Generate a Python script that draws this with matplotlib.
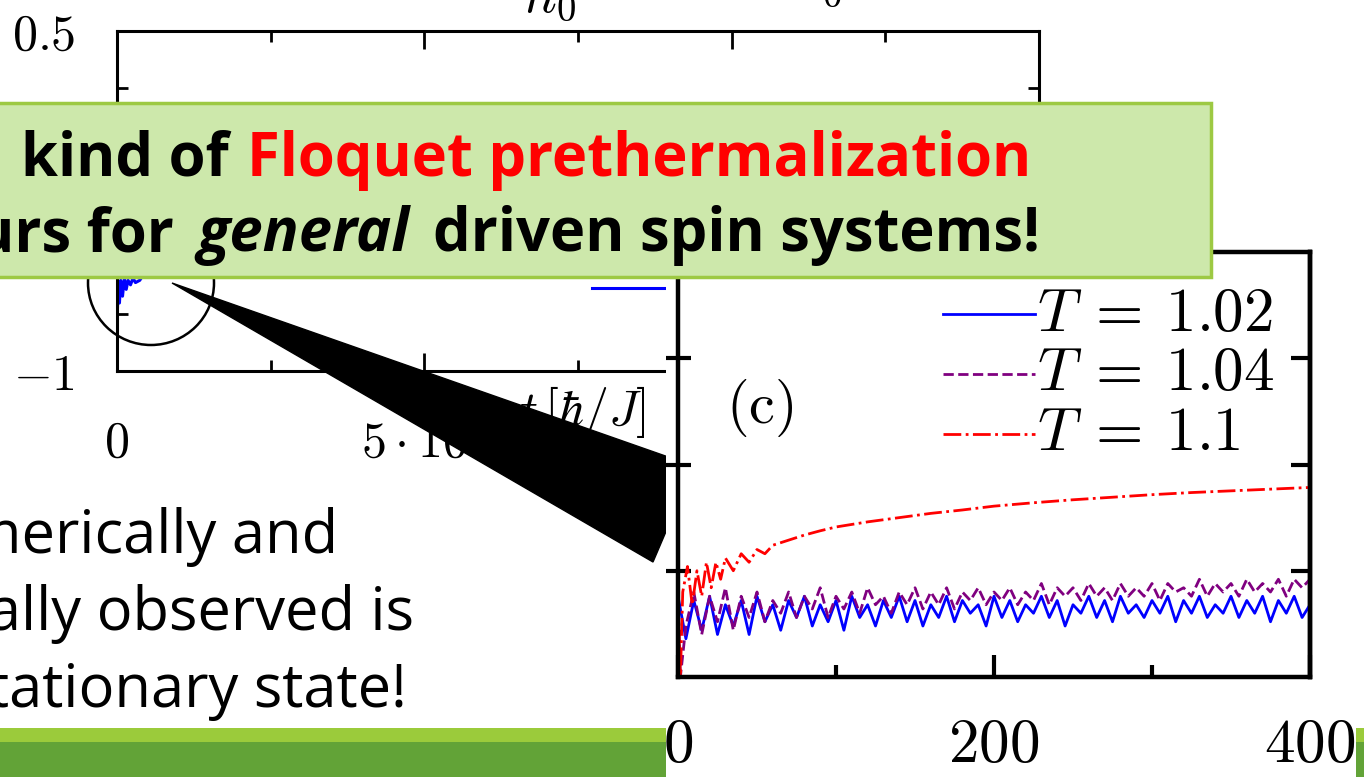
import numpy as np
import matplotlib
matplotlib.use('Agg')
import matplotlib.pyplot as plt
from matplotlib.patches import Rectangle, Polygon, Ellipse
from matplotlib.lines import Line2D
from matplotlib.ticker import MultipleLocator

W, H = 1364, 777

# back panel: long-time run (mostly hidden under the callout)
left_t = [0, 5, 20, 40, 60, 90, 120, 150, 180, 220, 260, 300, 370, 600, 1000, 2000, 5000, 10000, 15000]
left_y = [-1.0, -0.75, -0.62, -0.70, -0.60, -0.67, -0.59, -0.64, -0.60, -0.62, -0.59, -0.61, -0.60,
          -0.50, -0.45, -0.40, -0.35, -0.30, -0.28]

# front panel (c): three driving periods
blue_y = [0.19, 0.09, 0.18, 0.11, 0.19, 0.10, 0.17, 0.12, 0.18, 0.10,
          0.19, 0.13, 0.17, 0.11, 0.18, 0.14, 0.19, 0.12, 0.17, 0.13,
          0.18, 0.11, 0.19, 0.14, 0.17, 0.12, 0.18, 0.14, 0.19, 0.13,
          0.18, 0.12, 0.17, 0.14, 0.19, 0.13, 0.18, 0.15, 0.17, 0.12,
          0.19, 0.14, 0.18, 0.13, 0.17, 0.15, 0.19, 0.14, 0.18, 0.12,
          0.17, 0.15, 0.19, 0.14, 0.18, 0.13, 0.19, 0.15, 0.17, 0.14,
          0.18, 0.15, 0.19, 0.13, 0.18, 0.15, 0.19, 0.14, 0.17, 0.15,
          0.19, 0.14, 0.18, 0.15, 0.19, 0.13, 0.18, 0.15, 0.19, 0.14,
          0.17]
blue_t = np.linspace(0, 400, len(blue_y))

purple_y = [0.18, 0.00,
            0.12, 0.20, 0.10, 0.19, 0.13, 0.21, 0.11, 0.19, 0.14, 0.20,
            0.13, 0.18, 0.15, 0.20, 0.14, 0.19, 0.16, 0.21, 0.14, 0.19,
            0.16, 0.20, 0.15, 0.21, 0.17, 0.19, 0.15, 0.20, 0.17, 0.21,
            0.16, 0.20, 0.17, 0.21, 0.16, 0.20, 0.18, 0.21, 0.17, 0.20,
            0.18, 0.21, 0.17, 0.20, 0.18, 0.22, 0.17, 0.21, 0.19, 0.21,
            0.18, 0.22, 0.19, 0.21, 0.18, 0.22, 0.19, 0.21, 0.19, 0.22,
            0.18, 0.22, 0.20, 0.21, 0.19, 0.23, 0.19, 0.22, 0.20, 0.22,
            0.19, 0.23, 0.20, 0.22, 0.20, 0.23, 0.19, 0.23, 0.21, 0.23]
purple_t = np.concatenate([[0, 1.5], np.linspace(5, 400, len(purple_y) - 2)])

red_t = [0, 1.5, 3, 6, 9, 12, 15, 18, 21, 24, 27, 30, 35, 40, 45, 50, 55, 60, 70, 80, 90,
         100, 120, 140, 160, 180, 200, 225, 250, 275, 300, 325, 350, 375, 400]
red_y = [0.18, 0.00, 0.20, 0.26, 0.17, 0.25, 0.19, 0.27, 0.21, 0.27, 0.23, 0.28, 0.25, 0.29,
         0.27, 0.30, 0.29, 0.31, 0.322, 0.334, 0.344, 0.353, 0.365, 0.375, 0.385, 0.393,
         0.402, 0.410, 0.417, 0.423, 0.429, 0.434, 0.438, 0.442, 0.446]

series = [(blue_t, blue_y, '#0000ff', '-', r'$T\:=\:1.02$'),
          (purple_t, purple_y, '#800080', '--', r'$T\:=\:1.04$'),
          (red_t, red_y, '#ff0000', '-.', r'$T\:=\:1.1$')]

plt.rcParams['mathtext.fontset'] = 'cm'


def fx(px):
    return px / W


def fy(py):
    return 1 - py / H


def box(x0, y0, x1, y1):
    return [fx(x0), fy(y1), (x1 - x0) / W, (y1 - y0) / H]


fig = plt.figure(figsize=(W / 100, H / 100), dpi=100)
fig.patch.set_facecolor('white')

# ---- back panel
ax1 = fig.add_axes(box(117, 31, 1039, 371))
ax1.set_zorder(1)
ax1.plot(left_t, left_y, color='#0000ff', lw=2.2)
ax1.set_xlim(0, 15000)
ax1.set_ylim(-1, 0.5)
ax1.set_xticks([0, 5000, 10000, 15000], labels=['$0$', r'$5\cdot10^3$', '$10^4$', r'$1.5\cdot10^4$'])
ax1.set_yticks([-1, -0.5, 0, 0.5], labels=['$-1$', '$-0.5$', '$0$', '$0.5$'])
ax1.xaxis.set_minor_locator(MultipleLocator(2500))
ax1.yaxis.set_minor_locator(MultipleLocator(0.25))
ax1.tick_params(which='both', direction='in', top=True, right=True, width=2, labelsize=36)
ax1.tick_params(which='major', length=13)
ax1.tick_params(which='minor', length=8)
ax1.tick_params(axis='x', pad=34)
ax1.tick_params(axis='y', pad=30)
for s in ax1.spines.values():
    s.set_linewidth(2.2)
ax1.add_line(Line2D([0.515, 0.593], [0.244, 0.244], transform=ax1.transAxes, color='#0000ff', lw=2.2))
ax1.text(0.505, -0.12, r'$t\,[\hbar/J]$', transform=ax1.transAxes, ha='center', va='center',
         fontsize=36, clip_on=False)

fig.text(fx(550), fy(12), '$h_0$', fontsize=40, ha='center', va='baseline', zorder=1)
fig.text(fx(842), fy(-2), r'$\omega_0$', fontsize=40, ha='right', va='baseline', zorder=1)

# circle and pointer
fig.patches.append(Ellipse((fx(151), fy(283)), 126 / W, 124 / H, transform=fig.transFigure,
                           facecolor='none', edgecolor='black', lw=1.8, zorder=2))
fig.patches.append(Polygon([(fx(172), fy(283)), (fx(694), fy(466)), (fx(653), fy(562))],
                           closed=True, transform=fig.transFigure, facecolor='black',
                           edgecolor='black', zorder=2.2))

# slide footer bars
fig.patches.append(Rectangle((0, fy(742)), 1, 14 / H, transform=fig.transFigure,
                             facecolor='#9bcb3b', edgecolor='none', zorder=2.5))
fig.patches.append(Rectangle((0, 0), 1, fy(742), transform=fig.transFigure,
                             facecolor='#62a337', edgecolor='none', zorder=2.5))

# white backing of the pasted panel (c)
fig.patches.append(Rectangle((fx(666), 0), (1356 - 666) / W, fy(245), transform=fig.transFigure,
                             facecolor='white', edgecolor='none', zorder=3))

# ---- front panel (c)
ax2 = fig.add_axes(box(678, 252, 1310, 677))
ax2.set_zorder(4)
ax2.patch.set_alpha(0)
for t, y, c, ls, lab in series:
    ax2.plot(t, y, color=c, ls=ls, lw=2.0)
ax2.set_xlim(0, 400)
ax2.set_ylim(0, 1)
ax2.set_xticks([0, 200, 400], labels=['$0$', '$200$', '$400$'])
ax2.xaxis.set_minor_locator(MultipleLocator(100))
ax2.set_yticks([0.25, 0.5, 0.75], labels=[])
ax2.tick_params(axis='x', which='both', direction='in', width=3, labelsize=44, pad=28)
ax2.tick_params(axis='x', which='major', length=16)
ax2.tick_params(axis='x', which='minor', length=9)
ax2.tick_params(axis='y', direction='inout', length=18, width=3, left=True, right=False)
sec = ax2.secondary_yaxis('right')
sec.set_yticks([0.25, 0.5, 0.75], labels=[])
sec.tick_params(direction='in', length=14, width=3)
sec.spines['right'].set_linewidth(3.2)
for s in ax2.spines.values():
    s.set_linewidth(3.2)

for (t, y, c, ls, lab), ly in zip(series, [0.854, 0.713, 0.572]):
    ax2.add_line(Line2D([0.419, 0.565], [ly, ly], transform=ax2.transAxes, color=c, ls=ls, lw=2.0))
    ax2.text(0.568, ly, lab, transform=ax2.transAxes, ha='left', va='center', fontsize=44)
ax2.text(0.13, 0.634, r'$(\mathrm{c})$', transform=ax2.transAxes, ha='center', va='center', fontsize=42)

# ---- callout box
fig.patches.append(Rectangle((fx(-10), fy(277)), 1221 / W, 174 / H, transform=fig.transFigure,
                             facecolor='#cde8ab', edgecolor='#9dc943', lw=2.5, zorder=5))

r = fig.canvas.get_renderer()
fam = ['Open Sans', 'DejaVu Sans']
kw = dict(family=fam, fontweight='bold', va='baseline', zorder=6)
t_red = fig.text(fx(247), fy(176), 'Floquet prethermalization', color='#ff0000', fontsize=36, **kw)
w = t_red.get_window_extent(r).width
fs = 36 * 785 / w
t_red.set_fontsize(fs)
fig.text(fx(229), fy(176), 'kind of', color='black', fontsize=fs, ha='right', **kw)
fig.text(fx(174), fy(251), 'occurs for', color='black', fontsize=fs, ha='right', **kw)
fig.text(fx(303), fy(251), 'general', color='black', fontsize=fs, style='italic', ha='center', **kw)
fig.text(fx(1040), fy(251), 'driven spin systems!', color='black', fontsize=fs, ha='right', **kw)

# ---- body text
bfam = ['Open Sans', 'DejaVu Sans']
bkw = dict(family=bfam, va='baseline', ha='right', zorder=6, color='black')
probe = fig.text(0, 0, 'observed is', fontsize=36, family=bfam)
bfs = 36 * 317 / probe.get_window_extent(r).width
probe.remove()
fig.text(fx(338), fy(553), 'numerically and', fontsize=bfs, **bkw)
fig.text(fx(414), fy(630), 'experimentally observed is', fontsize=bfs, **bkw)
fig.text(fx(407), fy(707), 'a stationary state!', fontsize=bfs, **bkw)

fig.savefig('out.png', dpi=100)
